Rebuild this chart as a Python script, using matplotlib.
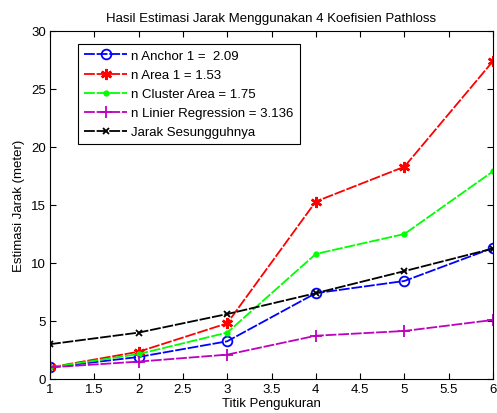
import numpy as np
import matplotlib
matplotlib.use('Agg')
import matplotlib.pyplot as plt

titik = [1, 2, 3, 4, 5, 6]
n_anchor = [1.0, 1.9, 3.25, 7.4, 8.45, 11.3]
n_area = [1.0, 2.35, 4.8, 15.3, 18.3, 27.4]
n_cluster = [1.0, 2.15, 4.0, 10.78, 12.5, 17.9]
n_linier = [1.0, 1.5, 2.1, 3.73, 4.14, 5.09]
jarak = [3.0, 4.0, 5.6, 7.4, 9.3, 11.25]

labels = ["n Anchor 1 =  2.09", "n Area 1 = 1.53", "n Cluster Area = 1.75",
          "n Linier Regression = 3.136", "Jarak Sesungguhnya"]

plt.rcParams['font.family'] = ['Liberation Sans', 'DejaVu Sans']
fs = 9.5

fig = plt.figure(figsize=(4.97, 4.14), dpi=100)
ax = fig.add_axes([50 / 497, 1 - 380 / 414, 443 / 497, 348 / 414])

ls = (0, (6, 1))
ax.plot(titik, n_anchor, color='b', ls=ls, lw=1.3, marker='o', mfc='none', ms=7, mew=1.3, label=labels[0])
ax.plot(titik, n_area, color='r', ls=ls, lw=1.3, marker=(6, 2, 0), ms=8, mew=1.8, label=labels[1])
ax.plot(titik, n_cluster, color='#00ff00', ls=ls, lw=1.3, marker='.', ms=7, label=labels[2])
ax.plot(titik, n_linier, color='m', ls=ls, lw=1.3, marker='+', ms=8, mew=1.3, label=labels[3])
ax.plot(titik, jarak, color='k', ls=ls, lw=1.3, marker='x', ms=5, mew=1.3, label=labels[4])

ax.set_xlim(1, 6)
ax.set_ylim(0, 30)
ax.set_xticks(np.arange(1, 6.01, 0.5))
ax.set_xticklabels(['1', '1.5', '2', '2.5', '3', '3.5', '4', '4.5', '5', '5.5', '6'])
ax.set_yticks(range(0, 31, 5))
ax.tick_params(direction='in', length=4, top=True, right=True, labelsize=fs, pad=3)
ax.set_title('Hasil Estimasi Jarak Menggunakan 4 Koefisien Pathloss', fontsize=fs, pad=7)
ax.set_xlabel('Titik Pengukuran', fontsize=fs, labelpad=1)
ax.set_ylabel('Estimasi Jarak (meter)', fontsize=fs, labelpad=4)

leg = ax.legend(loc='upper left', bbox_to_anchor=(0.063, 0.963), borderaxespad=0,
                fancybox=False, edgecolor='k', framealpha=1, fontsize=fs,
                handlelength=3.3, handletextpad=0.3, borderpad=0.45, labelspacing=0.52)
leg.get_frame().set_linewidth(0.8)

fig.savefig('out.png', dpi=100)
